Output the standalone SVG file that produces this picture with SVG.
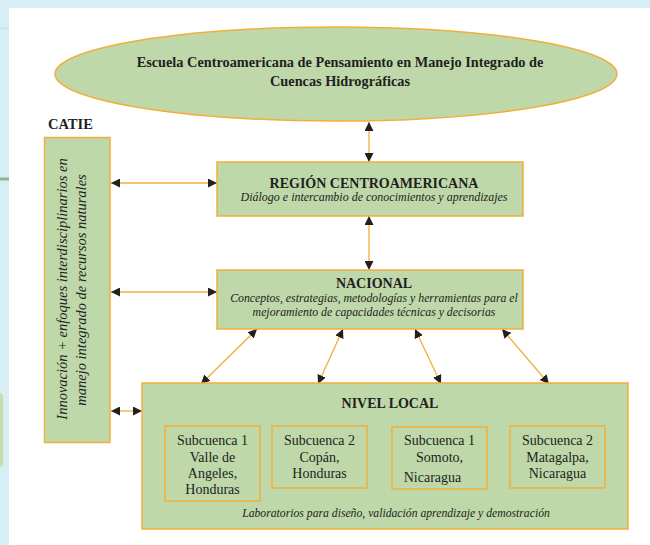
<svg xmlns="http://www.w3.org/2000/svg" width="650" height="545" viewBox="0 0 650 545">
<style>
  .box{fill:#bed8aa;stroke:#f2ae3a;stroke-width:1.5}
  .sub{fill:#bed8aa;stroke:#f2ae3a;stroke-width:1.5}
  .con{stroke:#f2ae3a;stroke-width:1.3;fill:none;marker-start:url(#ah);marker-end:url(#ah)}
  text{font-family:"Liberation Serif","Times New Roman",serif;fill:#231f20}
  .b{font-weight:bold;font-size:14px;text-anchor:middle}
  .i{font-style:italic;font-size:12px;text-anchor:middle}
  .n{font-size:14px;text-anchor:middle}
</style>
<defs>
  <marker id="ah" viewBox="0 0 10 10" refX="10" refY="5" markerWidth="9" markerHeight="9" markerUnits="userSpaceOnUse" orient="auto-start-reverse">
    <path d="M0,0 L10,5 L0,10 z" fill="#231f20"/>
  </marker>
</defs>
<rect x="0" y="0" width="650" height="545" fill="#ffffff"/>
<g id="frame">
  <rect x="0" y="0" width="650" height="8" fill="#d8eef5"/>
  <rect x="0" y="0" width="9" height="545" fill="#d8eef5"/>
  <rect x="0" y="27.5" width="9" height="2" fill="#c9e6f0"/>
  <rect x="0" y="177.5" width="9" height="3" fill="#8db59c"/>
  <rect x="-6" y="393" width="9" height="74" rx="4" fill="#c4dfa6"/>
</g>
<g id="connectors">
  <line class="con" x1="369" y1="122" x2="369" y2="162"/>
  <line class="con" x1="369" y1="216" x2="369" y2="270"/>
  <line class="con" x1="111" y1="183" x2="217" y2="183"/>
  <line class="con" x1="111" y1="292" x2="217" y2="292"/>
  <line class="con" x1="111" y1="411" x2="142" y2="411"/>
  <line class="con" x1="257" y1="329" x2="201" y2="384"/>
  <line class="con" x1="343" y1="329" x2="318" y2="384"/>
  <line class="con" x1="415" y1="329" x2="441" y2="384"/>
  <line class="con" x1="502" y1="329" x2="549" y2="384"/>
</g>
<g id="escuela">
  <ellipse cx="336" cy="74" rx="281" ry="47" class="box"/>
  <text class="b" x="340" y="67" style="font-size:14.3px">Escuela Centroamericana de Pensamiento en Manejo Integrado de</text>
  <text class="b" x="340" y="86" style="font-size:14.3px">Cuencas Hidrográficas</text>
</g>
<g id="catie">
  <text x="48" y="129" style="font-weight:bold;font-size:14.5px">CATIE</text>
  <rect x="44.5" y="137.5" width="65.5" height="305" class="box"/>
  <text class="i" transform="translate(67,289) rotate(-90)" style="font-size:14.5px">Innovación + enfoques interdisciplinarios en</text>
  <text class="i" transform="translate(86,290) rotate(-90)" style="font-size:14.5px">manejo integrado de recursos naturales</text>
</g>
<g id="region">
  <rect x="217" y="162" width="306" height="54" class="box"/>
  <text class="b" x="374" y="188">REGIÓN CENTROAMERICANA</text>
  <text class="i" x="374" y="201">Diálogo e intercambio de conocimientos y aprendizajes</text>
</g>
<g id="nacional">
  <rect x="217" y="270" width="306" height="59" class="box"/>
  <text class="b" x="374" y="288">NACIONAL</text>
  <text class="i" x="374" y="302" style="font-size:11.8px">Conceptos, estrategias, metodologías y herramientas para el</text>
  <text class="i" x="374" y="316" style="font-size:11.8px">mejoramiento de capacidades técnicas y decisorias</text>
</g>
<g id="nivel-local">
  <rect x="142" y="383" width="486" height="146" class="box"/>
  <text class="b" x="390" y="408">NIVEL LOCAL</text>
  <text class="i" x="396" y="517" style="font-size:11.7px">Laboratorios para diseño, validación aprendizaje y demostración</text>
</g>
<g id="sub1">
  <rect x="165" y="426" width="95" height="75" class="sub"/>
  <text class="n" x="212.5" y="445">Subcuenca 1</text>
  <text class="n" x="212.5" y="462">Valle de</text>
  <text class="n" x="212.5" y="478">Angeles,</text>
  <text class="n" x="212.5" y="494">Honduras</text>
</g>
<g id="sub2">
  <rect x="272" y="426" width="95" height="62" class="sub"/>
  <text class="n" x="319.5" y="445">Subcuenca 2</text>
  <text class="n" x="319.5" y="462">Copán,</text>
  <text class="n" x="319.5" y="478">Honduras</text>
</g>
<g id="sub3">
  <rect x="392" y="427" width="95" height="62" class="sub"/>
  <text class="n" x="439.5" y="445">Subcuenca 1</text>
  <text class="n" x="439.5" y="462">Somoto,</text>
  <text class="n" x="432.5" y="482">Nicaragua</text>
</g>
<g id="sub4">
  <rect x="510" y="426" width="95" height="62" class="sub"/>
  <text class="n" x="557.5" y="445">Subcuenca 2</text>
  <text class="n" x="557.5" y="462">Matagalpa,</text>
  <text class="n" x="557.5" y="478">Nicaragua</text>
</g>
</svg>
